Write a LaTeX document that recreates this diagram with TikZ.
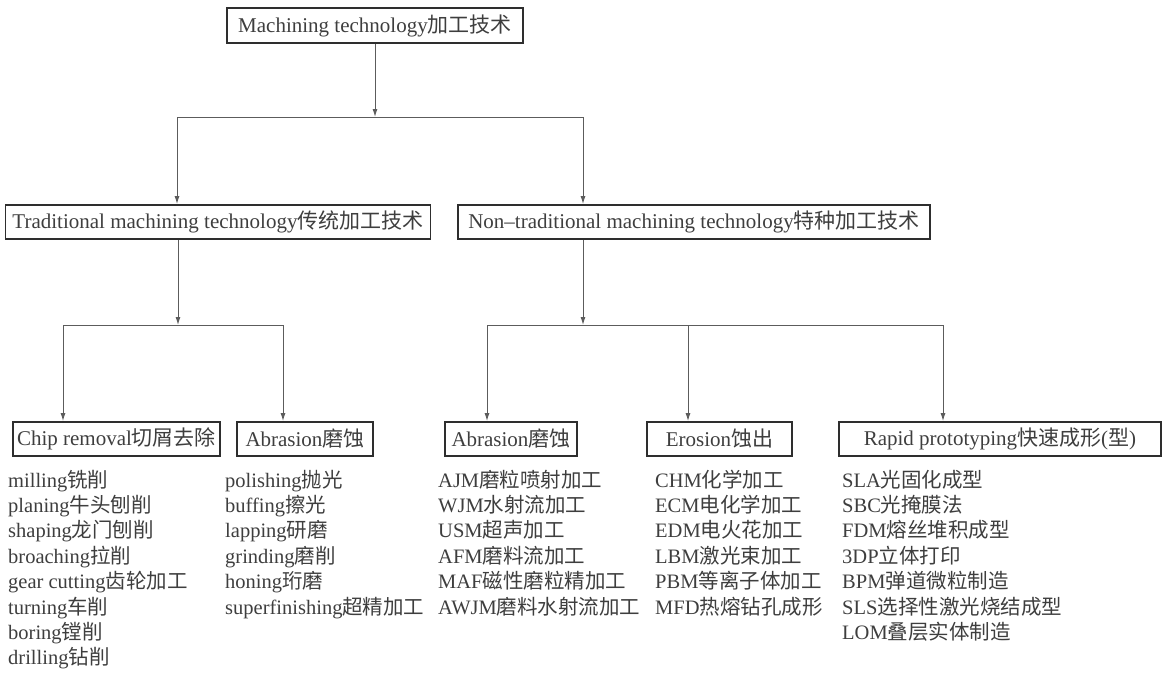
\documentclass[tikz,border=0pt]{standalone}
\usepackage{fontspec}
\setmainfont{Liberation Serif}
\newfontfamily\zhfont{Noto Sans CJK SC}
\newcommand{\zh}[1]{{\zhfont #1}}
\usetikzlibrary{arrows.meta}
\definecolor{txt}{HTML}{3E3E3E}
\definecolor{ln}{HTML}{5C5C5C}
\definecolor{bx}{HTML}{2E2E2E}
\begin{document}
\begin{tikzpicture}[x=1pt,y=-1pt,
  box/.style={draw=bx,line width=1.8pt,text=txt,font=\fontsize{21}{24}\selectfont,inner sep=0pt,minimum height=34pt},
  item/.style={anchor=base west,inner sep=0pt,text=txt,font=\fontsize{20.5}{24}\selectfont},
  conn/.style={draw=ln,line width=1pt},
  arr/.style={conn,-{Latex[length=8pt,width=5pt]}}]
\useasboundingbox (0,0) rectangle (1167,672);

% boxes
\node[box,minimum width=296pt,minimum height=35pt] (top) at (375,25.5) {Machining technology\zh{加工技术}};
\node[box,minimum width=425pt] (trad) at (218,222) {Traditional machining technology\zh{传统加工技术}};
\node[box,minimum width=472pt] (nontrad) at (694,222) {Non–traditional machining technology\zh{特种加工技术}};
\node[box,minimum width=207pt] (chip) at (116.5,439) {Chip removal\zh{切屑去除}};
\node[box,minimum width=136pt] (abr1) at (305,439) {Abrasion\zh{磨蚀}};
\node[box,minimum width=132pt] (abr2) at (511,439) {Abrasion\zh{磨蚀}};
\node[box,minimum width=145pt] (ero) at (719.5,439) {Erosion\zh{蚀出}};
\node[box,minimum width=322pt] (rap) at (1000,439) {Rapid prototyping\zh{快速成形}(\zh{型})};

% junction coordinates
\coordinate (h1L) at (177,117);
\coordinate (h1R) at (583,117);
\coordinate (j2) at (178,325);
\coordinate (h2L) at (63,325);
\coordinate (h2R) at (283,325);
\coordinate (j3) at (583,325);
\coordinate (h3L) at (487,325);
\coordinate (h3M) at (688,325);
\coordinate (h3R) at (943,325);

% connectors
\draw[arr] (top.south) -- (top.south |- h1L);
\draw[conn] (h1L) -- (h1R);
\draw[arr] (h1L) -- (h1L |- trad.north);
\draw[arr] (h1R) -- (h1R |- nontrad.north);

\draw[arr] (j2 |- trad.south) -- (j2);
\draw[conn] (h2L) -- (h2R);
\draw[arr] (h2L) -- (h2L |- chip.north);
\draw[arr] (h2R) -- (h2R |- abr1.north);

\draw[arr] (j3 |- nontrad.south) -- (j3);
\draw[conn] (h3L) -- (h3R);
\draw[arr] (h3L) -- (h3L |- abr2.north);
\draw[arr] (h3M) -- (h3M |- ero.north);
\draw[arr] (h3R) -- (h3R |- rap.north);

% lists
\foreach \t [count=\i] in {milling\zh{铣削}, planing\zh{牛头刨削}, shaping\zh{龙门刨削}, broaching\zh{拉削}, gear cutting\zh{齿轮加工}, turning\zh{车削}, boring\zh{镗削}, drilling\zh{钻削}}
  \node[item] (ca\i) at (8,{487+(\i-1)*25.4}) {\t};
\foreach \t [count=\i] in {polishing\zh{抛光}, buffing\zh{擦光}, lapping\zh{研磨}, grinding\zh{磨削}, honing\zh{珩磨}, superfinishing\zh{超精加工}}
  \node[item] (cb\i) at (225,{487+(\i-1)*25.4}) {\t};
\foreach \t [count=\i] in {AJM\zh{磨粒喷射加工}, WJM\zh{水射流加工}, USM\zh{超声加工}, AFM\zh{磨料流加工}, MAF\zh{磁性磨粒精加工}, AWJM\zh{磨料水射流加工}}
  \node[item] (cc\i) at (438,{487+(\i-1)*25.4}) {\t};
\foreach \t [count=\i] in {CHM\zh{化学加工}, ECM\zh{电化学加工}, EDM\zh{电火花加工}, LBM\zh{激光束加工}, PBM\zh{等离子体加工}, MFD\zh{热熔钻孔成形}}
  \node[item] (cd\i) at (655,{487+(\i-1)*25.4}) {\t};
\foreach \t [count=\i] in {SLA\zh{光固化成型}, SBC\zh{光掩膜法}, FDM\zh{熔丝堆积成型}, 3DP\zh{立体打印}, BPM\zh{弹道微粒制造}, SLS\zh{选择性激光烧结成型}, LOM\zh{叠层实体制造}}
  \node[item] (ce\i) at (842,{487+(\i-1)*25.4}) {\t};
\end{tikzpicture}
\end{document}
